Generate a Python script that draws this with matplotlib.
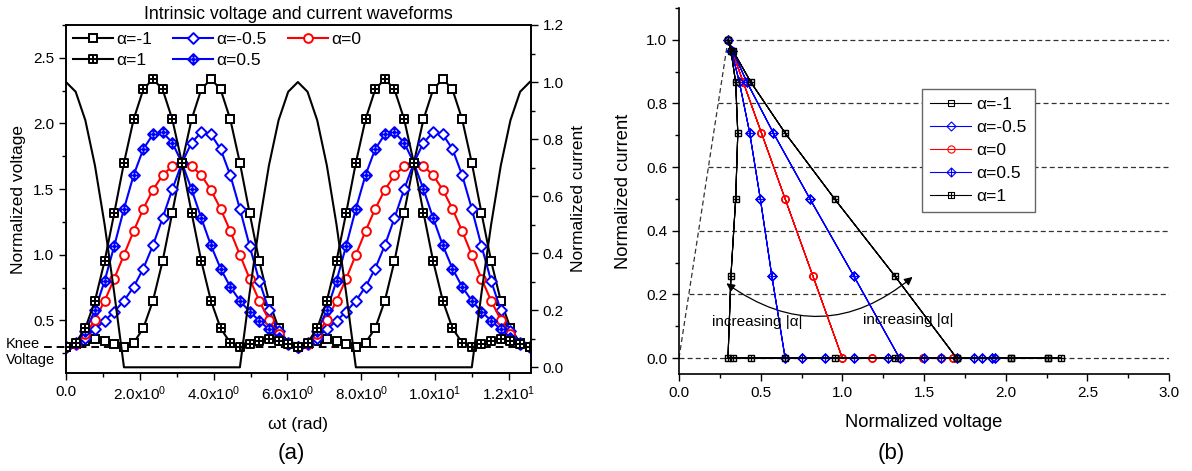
import numpy as np
import matplotlib.pyplot as plt
from matplotlib.path import Path
from matplotlib.patches import FancyArrowPatch
from matplotlib.ticker import MultipleLocator, FixedLocator, FormatStrFormatter

plt.rcParams['font.family'] = ['Liberation Sans', 'DejaVu Sans']
plt.rcParams['mathtext.fontset'] = 'custom'
plt.rcParams['mathtext.rm'] = 'Liberation Sans'
plt.rcParams['mathtext.it'] = 'Liberation Sans:italic'

# omega*t samples (rad), two RF periods
wt = [0.000, 0.262, 0.524, 0.785, 1.047, 1.309, 1.571, 1.833, 2.094, 2.356, 2.618, 2.880,
      3.142, 3.403, 3.665, 3.927, 4.189, 4.451, 4.712, 4.974, 5.236, 5.498, 5.760, 6.021,
      6.283, 6.545, 6.807, 7.069, 7.330, 7.592, 7.854, 8.116, 8.378, 8.639, 8.901, 9.163,
      9.425, 9.687, 9.948, 10.210, 10.472, 10.734, 10.996, 11.257, 11.519, 11.781, 12.043, 12.305,
      12.566]

# normalized current (half-wave)
i_norm = [1.0, 0.966, 0.866, 0.707, 0.5, 0.259, 0.0, 0.0, 0.0, 0.0, 0.0, 0.0,
          0.0, 0.0, 0.0, 0.0, 0.0, 0.0, 0.0, 0.259, 0.5, 0.707, 0.866, 0.966,
          1.0, 0.966, 0.866, 0.707, 0.5, 0.259, 0.0, 0.0, 0.0, 0.0, 0.0, 0.0,
          0.0, 0.0, 0.0, 0.0, 0.0, 0.0, 0.0, 0.259, 0.5, 0.707, 0.866, 0.966,
          1.0]

# normalized voltage for each alpha
v_am1 = [0.300, 0.318, 0.347, 0.360, 0.347, 0.318, 0.300, 0.330, 0.441, 0.650, 0.953, 1.320,
         1.700, 2.032, 2.259, 2.340, 2.259, 2.032, 1.700, 1.320, 0.953, 0.650, 0.441, 0.330,
         0.300, 0.318, 0.347, 0.360, 0.347, 0.318, 0.300, 0.330, 0.441, 0.650, 0.953, 1.320,
         1.700, 2.032, 2.259, 2.340, 2.259, 2.032, 1.700, 1.320, 0.953, 0.650, 0.441, 0.330,
         0.300]
v_am05 = [0.300, 0.321, 0.370, 0.433, 0.498, 0.568, 0.650, 0.756, 0.895, 1.072, 1.280, 1.498,
          1.700, 1.854, 1.933, 1.917, 1.805, 1.607, 1.350, 1.069, 0.802, 0.578, 0.417, 0.327,
          0.300, 0.321, 0.370, 0.433, 0.498, 0.568, 0.650, 0.756, 0.895, 1.072, 1.280, 1.498,
          1.700, 1.854, 1.933, 1.917, 1.805, 1.607, 1.350, 1.069, 0.802, 0.578, 0.417, 0.327,
          0.300]
v_a0 = [0.300, 0.324, 0.394, 0.505, 0.650, 0.819, 1.000, 1.181, 1.350, 1.495, 1.606, 1.676,
        1.700, 1.676, 1.606, 1.495, 1.350, 1.181, 1.000, 0.819, 0.650, 0.505, 0.394, 0.324,
        0.300, 0.324, 0.394, 0.505, 0.650, 0.819, 1.000, 1.181, 1.350, 1.495, 1.606, 1.676,
        1.700, 1.676, 1.606, 1.495, 1.350, 1.181, 1.000, 0.819, 0.650, 0.505, 0.394, 0.324,
        0.300]
v_ap05 = [0.300, 0.327, 0.417, 0.578, 0.802, 1.069, 1.350, 1.607, 1.805, 1.917, 1.933, 1.854,
          1.700, 1.498, 1.280, 1.072, 0.895, 0.756, 0.650, 0.568, 0.498, 0.433, 0.370, 0.321,
          0.300, 0.327, 0.417, 0.578, 0.802, 1.069, 1.350, 1.607, 1.805, 1.917, 1.933, 1.854,
          1.700, 1.498, 1.280, 1.072, 0.895, 0.756, 0.650, 0.568, 0.498, 0.433, 0.370, 0.321,
          0.300]
v_ap1 = [0.300, 0.330, 0.441, 0.650, 0.953, 1.320, 1.700, 2.032, 2.259, 2.340, 2.259, 2.032,
         1.700, 1.320, 0.953, 0.650, 0.441, 0.330, 0.300, 0.318, 0.347, 0.360, 0.347, 0.318,
         0.300, 0.330, 0.441, 0.650, 0.953, 1.320, 1.700, 2.032, 2.259, 2.340, 2.259, 2.032,
         1.700, 1.320, 0.953, 0.650, 0.441, 0.330, 0.300, 0.318, 0.347, 0.360, 0.347, 0.318,
         0.300]

labels = ['α=-1', 'α=-0.5', 'α=0', 'α=0.5', 'α=1']
knee = 0.3
grid_levels = [0.0, 0.2, 0.4, 0.6, 0.8, 1.0]

xticks_a = [0, 2, 4, 6, 8, 10, 12]
xticklabels_a = ['0.0', r'2.0x10$^0$', r'4.0x10$^0$', r'6.0x10$^0$', r'8.0x10$^0$',
                 r'1.0x10$^1$', r'1.2x10$^1$']

# square / diamond with a cross inside
codes = [Path.MOVETO, Path.LINETO, Path.LINETO, Path.LINETO, Path.CLOSEPOLY,
         Path.MOVETO, Path.LINETO, Path.MOVETO, Path.LINETO]
sq_plus = Path([(-1, -1), (1, -1), (1, 1), (-1, 1), (-1, -1), (-1, 0), (1, 0), (0, -1), (0, 1)], codes)
dia = Path([(0, -1), (1, 0), (0, 1), (-1, 0), (0, -1)],
           [Path.MOVETO, Path.LINETO, Path.LINETO, Path.LINETO, Path.CLOSEPOLY])
dia_plus = Path([(0, -1), (1, 0), (0, 1), (-1, 0), (0, -1), (-1, 0), (1, 0), (0, -1), (0, 1)], codes)

series = [v_am1, v_am05, v_a0, v_ap05, v_ap1]
colors = ['black', '#0000ff', '#ff0000', '#0000ff', 'black']
markers = ['s', dia, 'o', dia_plus, sq_plus]
ms_a = [6, 7.8, 6.3, 7.8, 6]
ms_b = [5, 6.5, 5.2, 6.5, 5]

fig = plt.figure(figsize=(11.92, 4.71), dpi=100)

# ---------- (a) waveforms ----------
ax1 = fig.add_axes([66/1192, 1-373/471, 465/1192, 348/471])
ax2 = ax1.twinx()

lines = []
for v, c, m, ms, lab in zip(series, colors, markers, ms_a, labels):
    ln, = ax1.plot(wt, v, color=c, lw=1.5, marker=m, ms=ms, mfc='white', mec=c, mew=1.4, label=lab)
    lines.append(ln)
ax1.axhline(knee, color='black', lw=1.4, ls=(0, (4, 2.5)), zorder=1)
ax1.plot([-0.6, 0], [knee, knee], color='black', lw=1.4, ls=(0, (4, 2.5)), clip_on=False)
ax2.plot(wt, i_norm, color='black', lw=1.5)

ax1.set_xlim(0, 12.6)
ax1.set_ylim(0.1, 2.75)
ax2.set_ylim(-0.02, 1.2)
ax1.xaxis.set_major_locator(FixedLocator(xticks_a))
ax1.set_xticklabels(xticklabels_a)
ax1.xaxis.set_minor_locator(MultipleLocator(1))
ax1.yaxis.set_major_locator(MultipleLocator(0.5))
ax1.yaxis.set_minor_locator(MultipleLocator(0.25))
ax1.yaxis.set_major_formatter(FormatStrFormatter('%.1f'))
ax2.yaxis.set_major_locator(MultipleLocator(0.2))
ax2.yaxis.set_minor_locator(MultipleLocator(0.1))
ax2.yaxis.set_major_formatter(FormatStrFormatter('%.1f'))
for a in (ax1, ax2):
    a.tick_params(which='major', direction='out', length=5, width=1, labelsize=11)
    a.tick_params(which='minor', direction='out', length=3, width=1)
    for s in a.spines.values():
        s.set_linewidth(1.2)

ax1.set_title('Intrinsic voltage and current waveforms', fontsize=12.8, pad=4)
ax1.set_xlabel('ωt (rad)', fontsize=12.5, labelpad=10)
ax1.set_ylabel('Normalized voltage', fontsize=12.5, labelpad=5)
ax2.set_ylabel('Normalized current', fontsize=12.5, labelpad=5)
fig.text(6/1192, 1-352/471, 'Knee\nVoltage', fontsize=10.5, ha='left', va='center', linespacing=1.1)

order = [0, 4, 1, 3, 2]
ax1.legend([lines[k] for k in order], [labels[k] for k in order], loc='upper left', ncol=3,
           frameon=False, fontsize=12.5, handlelength=2.3, handletextpad=0.2, columnspacing=1.2,
           labelspacing=0.32, borderaxespad=0.1, borderpad=0.3)

# ---------- (b) load lines ----------
ax3 = fig.add_axes([679/1192, 1-374/471, 490/1192, 366/471])
x_max = 3.0
for y in grid_levels:
    ax3.plot([knee*y, x_max], [y, y], color='0.2', lw=0.9, ls=(0, (4, 2.5)), zorder=1)
ax3.plot([0, knee], [0, 1.0], color='0.2', lw=0.9, ls=(0, (4, 2.5)), zorder=1)

for v, c, m, ms, lab in zip(series, colors, markers, ms_b, labels):
    ax3.plot(v, i_norm, color=c, lw=0.8, marker=m, ms=ms, mfc='none', mec=c, mew=0.8, label=lab)

arc = FancyArrowPatch((0.29, 0.235), (1.43, 0.255), arrowstyle='<|-|>', mutation_scale=12,
                      connectionstyle='arc3,rad=0.385', color='black', lw=0.9, shrinkA=0, shrinkB=0)
ax3.add_patch(arc)
ax3.text(0.48, 0.113, 'increasing |α|', fontsize=11, ha='center', va='center')
ax3.text(1.405, 0.12, 'increasing |α|', fontsize=11, ha='center', va='center')

ax3.set_xlim(0, x_max)
ax3.set_ylim(-0.05, 1.1)
ax3.spines['top'].set_visible(False)
ax3.spines['right'].set_visible(False)
for s in ax3.spines.values():
    s.set_linewidth(1.2)
ax3.xaxis.set_major_locator(MultipleLocator(0.5))
ax3.xaxis.set_minor_locator(MultipleLocator(0.25))
ax3.yaxis.set_major_locator(MultipleLocator(0.2))
ax3.yaxis.set_minor_locator(MultipleLocator(0.1))
ax3.xaxis.set_major_formatter(FormatStrFormatter('%.1f'))
ax3.yaxis.set_major_formatter(FormatStrFormatter('%.1f'))
ax3.tick_params(which='major', direction='out', length=5, width=1, labelsize=11)
ax3.tick_params(which='minor', direction='out', length=3, width=1)
ax3.set_xlabel('Normalized voltage', fontsize=13.2, labelpad=10)
ax3.set_ylabel('Normalized current', fontsize=13.2, labelpad=10)

ax3.legend(loc='upper left', bbox_to_anchor=(922/1192, 1-89/471), bbox_transform=fig.transFigure,
           fontsize=12.5, handlelength=2.4, handletextpad=0.3, labelspacing=0.45, borderpad=0.45,
           fancybox=False, edgecolor='0.4', framealpha=1, borderaxespad=0)

fig.text(291/1192, 1-453/471, '(a)', fontsize=16, ha='center', va='center')
fig.text(891/1192, 1-453/471, '(b)', fontsize=16, ha='center', va='center')

fig.savefig('out.png', dpi=100)
